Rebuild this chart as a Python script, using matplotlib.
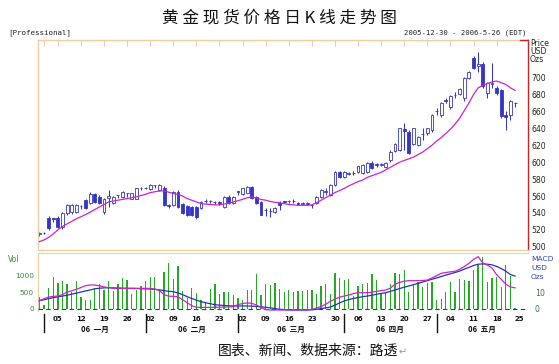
import matplotlib
matplotlib.use("Agg")
import matplotlib.pyplot as plt
import matplotlib.transforms as mtransforms

CJK = ["Noto Sans CJK SC", "DejaVu Sans"]
TAN = "#efcfa2"
RED = "#cc2222"
BLUE = "#3535c8"
MAGENTA = "#cc22cc"
GREEN = "#22aa22"

# --- daily data, 2005-12-30 .. 2006-05 (index = trading day) ---
opens = [515, 516, 534, 533, 534, 523, 540, 541, 541, 548, 555, 552, 562, 559, 541, 558, 552, 561, 559, 563,
         557, 557, 569, 569.5, 568, 572.5, 567, 570, 549, 549, 565, 551, 548, 547, 547, 546, 554, 554, 553, 552,
         547, 559, 552, 565, 562, 564, 571, 559, 553, 543, 542, 541, 552, 553, 553.5, 554, 551, 551, 551, 549,
         552, 559, 565, 561, 573, 588, 582, 586.5, 587, 588, 587, 588, 599, 597, 597, 594, 603, 613, 614, 639,
         636, 622, 620, 633, 634, 638, 660, 656, 673, 665, 679, 681, 676, 700, 723, 714, 716, 682, 692, 688,
         685, 656, 656, 670]
highs = [517, 517, 536, 533.5, 536, 541, 551, 550, 550, 549, 557, 565, 564, 561, 558, 567, 560, 561.5, 566, 563.5,
         564, 570, 571, 571, 574, 573, 574, 572, 551, 566, 567, 552, 549, 548, 548, 554, 556, 555, 554, 554,
         560, 561, 560, 565.5, 570, 572, 572, 560, 554, 546, 546, 547, 554, 554.5, 555, 556, 553, 553, 553, 551,
         560, 568, 569, 574, 589, 590, 589, 588, 589, 596, 598, 600, 601, 599, 599, 600, 614, 623, 641, 646,
         638, 641, 631, 640, 641, 657, 664, 671, 676, 679, 683, 688, 701, 708, 726, 730, 718, 695, 717, 690,
         687, 660, 674, 671]
lows = [513, 515, 520, 529, 522, 521, 538, 539, 540, 545, 545, 550, 552, 550, 539, 547, 551, 558, 558, 559,
        556, 556, 567, 568, 567, 569, 566, 548, 546, 548, 546, 539, 536, 536, 533, 545, 552, 552, 551, 549,
        546, 551, 551, 561, 561, 563, 557, 551, 537, 536, 535, 540, 544, 552, 552, 552, 549, 549, 549, 546,
        550, 558, 561, 560, 572, 581, 581, 585, 585, 587, 586, 587, 592, 594, 595, 593, 600, 612, 613, 614,
        610, 620, 619, 626, 632, 636, 656, 654, 670, 663, 676, 679, 672, 698, 710, 707, 688, 676, 688, 680,
        652, 638, 650, 665]
closes = [516, 516.5, 522, 533, 523, 540, 549, 549, 549, 548.5, 546, 562, 553, 552, 557, 560, 559, 561, 565, 563,
          563, 569, 569.5, 570, 573, 572.5, 573, 549, 548, 565, 547, 540, 537, 537, 535, 553, 554, 553.5, 552.5, 552,
          559, 552, 559, 565, 569, 571, 558, 552, 538, 543.5, 542, 546, 549, 553, 553.5, 554, 551, 551.5, 551, 549,
          559, 567, 565.5, 573, 588, 582, 588, 587, 587, 595, 597, 599, 593, 597, 597.5, 599, 612, 622, 640, 637,
          611, 640, 630, 633, 640, 656, 660, 670, 673, 678, 679, 687, 700, 707, 711, 716, 690, 694, 694, 682,
          655, 653, 672, 670]
ma10 = [506, 508, 511, 515, 520, 524, 527, 530, 533, 535.5, 538, 541, 544, 547, 550, 553, 554, 555, 556, 557,
        558, 559, 560.5, 562, 564, 565, 566, 566, 564.5, 563, 562, 560, 557, 555, 553, 551, 550.5, 550, 549.5, 549.5,
        550.5, 551.5, 553, 554.5, 556, 558, 559, 557.5, 556, 555, 553.5, 552.5, 552, 551, 550, 549.5, 549, 549, 549, 549.5,
        552, 555, 558, 561, 564, 566.5, 569, 572, 574.5, 577, 579, 582, 584, 586, 588, 591, 594, 597, 600, 602,
        604, 606, 609, 612, 616, 620, 625, 629, 634, 639, 645, 652, 661, 670, 680, 688, 691, 693, 695, 696,
        694, 692, 688, 685]
volume = [350, 100, 640, 965, 780, 845, 765, 510, 845, 360, 260, 260, 640, 765, 580, 845, 540, 765, 945, 885,
          460, 560, 680, 845, 965, 965, 560, 1115, 1390, 915, 1290, 540, 340, 640, 480, 280, 200, 610, 765, 440,
          510, 510, 430, 340, 260, 560, 580, 1045, 410, 765, 710, 780, 600, 510, 580, 510, 540, 540, 560, 560,
          440, 680, 740, 460, 1095, 945, 865, 915, 380, 680, 740, 790, 1045, 885, 460, 480, 740, 1085, 1045, 1185,
          510, 765, 815, 660, 785, 815, 260, 310, 510, 815, 510, 915, 865, 845, 1165, 1320, 1570, 815, 945, 965,
          660, 1320, 985, 30]
macd_dif = [5.2, 6.4, 7.5, 7.9, 8.1, 9.0, 10.6, 11.4, 12.3, 13.4, 14.6, 15.0, 15.0, 14.5, 13.8, 13.3, 13.0, 12.9, 12.9, 12.9,
            12.9, 12.9, 12.9, 12.9, 12.9, 12.5, 11.5, 9.0, 8.0, 7.9, 7.7, 5.8, 4.0, 2.0, 1.1, 1.0, 1.0, 1.0, 1.1, 1.1,
            1.2, 1.3, 1.4, 2.8, 3.4, 3.8, 3.5, 2.5, 1.0, -0.4, -0.6, -0.6, -0.6, -0.6, -0.6, -0.6, -0.6, -0.6, -0.6, -0.2,
            0.6, 1.6, 3.0, 4.8, 6.2, 7.4, 8.1, 8.8, 9.6, 10.2, 10.2, 10.2, 10.5, 11.0, 11.5, 11.9, 13.0, 15.5, 16.6, 17.4,
            17.7, 17.7, 17.7, 17.8, 18.1, 19.4, 20.8, 22.3, 22.8, 23.2, 23.6, 24.8, 26.5, 28.5, 31.0, 32.7, 28.8, 27.5, 25.6, 21.5,
            18.6, 15.5, 13.8, 13.2]
macd_dea = [5.2, 5.8, 6.5, 7.1, 7.6, 8.1, 8.6, 9.3, 9.9, 10.6, 11.3, 11.9, 12.6, 13.0, 13.2, 13.3, 13.2, 13.1, 13.0, 12.9,
            12.9, 12.8, 12.7, 12.6, 12.5, 12.3, 12.0, 11.5, 11.1, 10.8, 10.0, 9.0, 7.7, 6.6, 5.5, 4.6, 3.9, 3.3, 2.7, 2.4,
            2.2, 2.0, 1.9, 1.9, 1.9, 1.9, 1.8, 1.6, 1.4, 1.1, 0.7, 0.3, -0.2, -0.4, -0.5, -0.6, -0.6, -0.6, -0.6, -0.5,
            -0.2, 0.2, 0.7, 1.2, 2.4, 3.8, 5.0, 5.9, 6.6, 7.2, 7.7, 8.1, 8.6, 9.2, 9.7, 10.2, 11.0, 11.9, 12.8, 13.6,
            14.4, 15.2, 16.0, 16.9, 17.7, 18.6, 19.4, 20.3, 21.2, 22.0, 22.8, 23.7, 24.9, 26.0, 27.2, 28.0, 28.2, 28.0, 27.6, 26.6,
            25.3, 23.6, 21.5, 20.6]

week_idx = [4, 9, 14, 19, 24, 29, 34, 39, 44, 49, 54, 59, 64, 69, 74, 79, 84, 89, 94, 99, 104]
week_labels = ["05", "12", "19", "26", "02", "09", "16", "23", "02", "09", "16", "23", "30",
               "06", "13", "20", "27", "04", "11", "18", "25"]
month_idx = [1, 23, 43, 66, 86]
month_labels = ["06  一月", "06  二月", "06  三月", "06  四月", "06  五月"]
price_ticks = [500, 520, 540, 560, 580, 600, 620, 640, 660, 680, 700]

days = list(range(len(closes)))
XMIN, XMAX = -0.3, 105.8

fig = plt.figure(figsize=(5.59, 3.64), dpi=100)
fig.patch.set_facecolor("white")

# main candle panel
ax = fig.add_axes([38 / 559, 1 - 250 / 364, 490 / 559, 210 / 364])
ax.set_xlim(XMIN, XMAX)
ax.set_ylim(496.1, 744.6)

ax.vlines(days, lows, highs, color=BLUE, lw=0.75, zorder=1)
bottoms = [min(o, c) for o, c in zip(opens, closes)]
heights = [max(abs(c - o), 0.5) for o, c in zip(opens, closes)]
faces = ["white" if c > o else BLUE for o, c in zip(opens, closes)]
ax.bar(days, heights, bottom=bottoms, width=0.62, color=faces, edgecolor=BLUE, linewidth=0.6, zorder=2)
ax.plot(days, ma10, color=MAGENTA, lw=0.9, zorder=3)

for s in ("left", "top", "bottom"):
    ax.spines[s].set_color(TAN)
    ax.spines[s].set_linewidth(1.0)
ax.spines["right"].set_color(RED)
ax.spines["right"].set_linewidth(1.0)
ax.plot([0.984, 1.0], [1.0, 1.0], transform=ax.transAxes, color=RED, lw=1.0, clip_on=False, zorder=5)

ax.set_xticks([1] + week_idx[:-1])
ax.tick_params(axis="x", top=True, bottom=False, direction="in", length=4, color=TAN,
               labeltop=False, labelbottom=False)
ax.yaxis.tick_right()
ax.set_yticks(price_ticks)
ax.set_yticklabels([str(p) for p in price_ticks])
ax.tick_params(axis="y", length=0, pad=2.5, labelsize=5.6, labelcolor="#1c2a1c")

fig.text(530 / 559, 1 - 44 / 364, "Price", fontsize=5.6, color="#1c2a1c", va="center")
fig.text(530 / 559, 1 - 52 / 364, "USD", fontsize=5.6, color="#1c2a1c", va="center")
fig.text(530 / 559, 1 - 60 / 364, "Ozs", fontsize=5.6, color="#1c2a1c", va="center")

# volume + MACD panel
ax2 = fig.add_axes([38 / 559, 1 - 311 / 364, 490 / 559, 58 / 364])
ax2.set_xlim(XMIN, XMAX)
ax2.set_ylim(-67, 1691)
ax2.bar(days, volume, width=0.28, color=GREEN, zorder=1)
for s in ("left", "top"):
    ax2.spines[s].set_color(TAN)
for s in ("right", "bottom"):
    ax2.spines[s].set_visible(False)
ax2.set_xticks([])
ax2.set_yticks([0, 500, 1000])
ax2.set_yticklabels(["0", "500", "1000"])
ax2.tick_params(axis="y", length=0, pad=3, labelsize=5.3, labelcolor="#2f8f2f")
fig.text(8 / 559, 1 - 259 / 364, "Vol", fontsize=5.6, color="#2f8f2f", va="center")

ax3 = ax2.twinx()
ax3.set_xlim(XMIN, XMAX)
ax3.set_ylim(-1.25, 35)
ax3.axhline(0, color="#2233bb", lw=0.8, ls=(0, (4, 3)), zorder=2)
ax3.plot(days, macd_dea, color="#2233bb", lw=0.9, zorder=3)
ax3.plot(days, macd_dif, color=MAGENTA, lw=0.9, zorder=4)
for s in ax3.spines.values():
    s.set_visible(False)
ax3.set_yticks([0, 10])
ax3.tick_params(axis="y", length=0, pad=5, labelsize=5.6, labelcolor="#3a7a3a")
fig.text(531 / 559, 1 - 259 / 364, "MACD", fontsize=5.4, color="#3344bb", va="center")
fig.text(531 / 559, 1 - 268 / 364, "USD", fontsize=5.4, color="#3344bb", va="center")
fig.text(531 / 559, 1 - 277 / 364, "Ozs", fontsize=5.4, color="#3344bb", va="center")

# date axis under the lower panel
tr = mtransforms.blended_transform_factory(ax2.transData, ax2.transAxes)
for i, lab in zip(week_idx, week_labels):
    ax2.text(i, -0.14, lab, transform=tr, ha="center", va="center", fontsize=5,
             fontweight="bold", color="#111111")
ends = month_idx[1:] + [XMAX]
for start, end, lab in zip(month_idx, ends, month_labels):
    ax2.plot([start, start], [-0.05, -0.37], transform=tr, color="#111111", lw=1.0, clip_on=False)
    ax2.text((start + end) / 2, -0.31, lab, transform=tr, ha="center", va="center",
             fontsize=5.5, fontweight="bold", family=CJK, color="#111111")

# titles and captions
fig.text(0.5, 1 - 18 / 364, " ".join("黄金现货价格日K线走势图"), ha="center", va="center",
         fontsize=12, family=CJK, color="#111111")
fig.text(8 / 559, 1 - 33 / 364, "[Professional]", fontsize=5.4, family="DejaVu Sans Mono",
         va="center", color="#222222")
fig.text(527 / 559, 1 - 33 / 364, "2005-12-30 - 2006-5-26 (EDT)", fontsize=5.2,
         family="DejaVu Sans Mono", ha="right", va="center", color="#222222")
fig.text(218 / 559, 1 - 351 / 364, "图表、新闻、数据来源：路透", fontsize=10, family=CJK,
         va="center", color="#111111")
fig.text(399 / 559, 1 - 352 / 364, "↵", fontsize=7, family=CJK, va="center", color="#999999")

fig.savefig("out.png", dpi=100, facecolor="white")
